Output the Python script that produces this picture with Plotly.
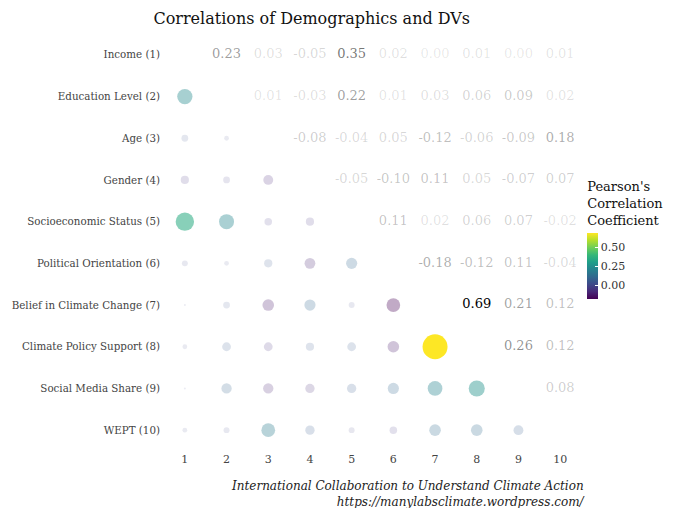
import numpy as np
import plotly.graph_objects as go

labels = ["Income (1)", "Education Level (2)", "Age (3)", "Gender (4)",
          "Socioeconomic Status (5)", "Political Orientation (6)",
          "Belief in Climate Change (7)", "Climate Policy Support (8)",
          "Social Media Share (9)", "WEPT (10)"]
tick_nums = [str(i) for i in range(1, 11)]

# upper-triangle correlations, row by row (r_ij for j > i)
row1 = [0.23, 0.03, -0.05, 0.35, 0.02, 0.00, 0.01, 0.00, 0.01]
row2 = [0.01, -0.03, 0.22, 0.01, 0.03, 0.06, 0.09, 0.02]
row3 = [-0.08, -0.04, 0.05, -0.12, -0.06, -0.09, 0.18]
row4 = [-0.05, -0.10, 0.11, 0.05, -0.07, 0.07]
row5 = [0.11, 0.02, 0.06, 0.07, -0.02]
row6 = [-0.18, -0.12, 0.11, -0.04]
row7 = [0.69, 0.21, 0.12]
row8 = [0.26, 0.12]
row9 = [0.08]
rows = [row1, row2, row3, row4, row5, row6, row7, row8, row9]

n = len(labels)
R = np.full((n, n), np.nan)
for i, vals in enumerate(rows):
    for k, v in enumerate(vals):
        j = i + 1 + k
        R[i, j] = v
        R[j, i] = v

absmax = np.nanmax(np.abs(R))
rmin, rmax = np.nanmin(R), np.nanmax(R)

def alpha(v):
    return 0.1 + 0.9 * abs(v) / absmax

cx, cy, cval, csize, cop = [], [], [], [], []
tx, ty, ttext, tcol = [], [], [], []
for i in range(n):
    for j in range(n):
        if i == j:
            continue
        v = R[i, j]
        if i > j:
            cx.append(j + 1); cy.append(i + 1); cval.append(v)
            csize.append(2 + 23 * np.sqrt(abs(v) / absmax))
            cop.append(alpha(v))
        else:
            tx.append(j + 1); ty.append(i + 1)
            ttext.append(f"{v:.2f}")
            tcol.append(f"rgba(0,0,0,{alpha(v):.3f})")

serif = "Georgia, 'DejaVu Serif', serif"

fig = go.Figure()
fig.add_trace(go.Scatter(
    x=cx, y=cy, mode="markers", hoverinfo="skip", showlegend=False,
    marker=dict(size=csize, color=cval, opacity=cop, colorscale="Viridis",
                cmin=rmin, cmax=rmax, line=dict(width=0),
                colorbar=dict(
                    title=dict(text="Pearson's<br>Correlation<br>Coefficient",
                               side="top", font=dict(family=serif, size=13, color="#111")),
                    thickness=11, lenmode="pixels", len=120,
                    x=1.015, xanchor="left", y=0.509, yanchor="middle",
                    tickvals=[0, 0.25, 0.5], ticktext=["0.00", "0.25", "0.50"],
                    ticks="inside", tickcolor="white", ticklen=3,
                    tickfont=dict(family=serif, size=11, color="#333"),
                    outlinewidth=0, xpad=0, ypad=0))))
fig.add_trace(go.Scatter(
    x=tx, y=ty, mode="text", text=ttext, hoverinfo="skip", showlegend=False,
    textfont=dict(family=serif, size=13, color=tcol)))

fig.update_layout(
    width=675, height=508, plot_bgcolor="white", paper_bgcolor="white",
    margin=dict(l=156, r=102, t=26, b=65, autoexpand=False),
    title=dict(text="Correlations of Demographics and DVs", x=0.45, xanchor="center",
               y=0.99, yanchor="top", font=dict(family=serif, size=16, color="#111")),
    xaxis=dict(range=[0.5, 10.5], tickvals=list(range(1, 11)), ticktext=tick_nums,
               showgrid=False, zeroline=False, showline=False, ticks="",
               automargin=False,
               tickfont=dict(family=serif, size=11, color="#444")),
    yaxis=dict(range=[10.5, 0.5], tickvals=list(range(1, 11)), ticktext=labels,
               showgrid=False, zeroline=False, showline=False, ticks="",
               automargin=False, ticklabelstandoff=3,
               tickfont=dict(family=serif, size=10.3, color="#444")),
    annotations=[dict(
        text="International Collaboration to Understand Climate Action<br>https://manylabsclimate.wordpress.com/",
        xref="paper", yref="paper", x=1.017, y=-0.063, xanchor="right", yanchor="top",
        align="right", showarrow=False,
        font=dict(family=serif, size=12, color="#222", style="italic"))],
)

fig.write_html("out.html")
